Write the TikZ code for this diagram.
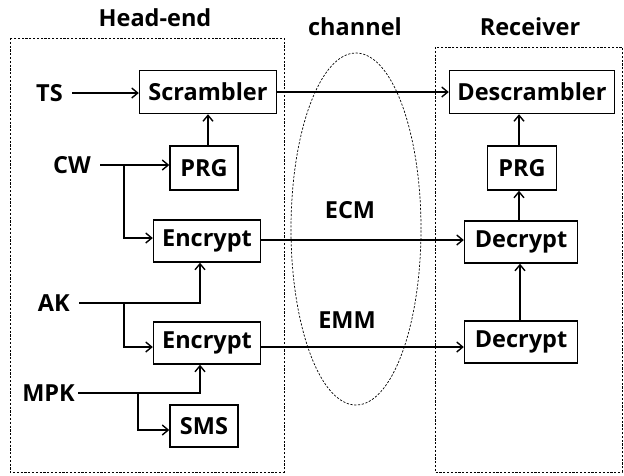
\documentclass[tikz,border=0pt]{standalone}
\usepackage{fontspec}
\setmainfont{Open Sans}
\usetikzlibrary{arrows.meta,shapes.geometric}
\begin{document}
\begin{tikzpicture}[x=1pt,y=-1pt,
  blk/.style={draw,line width=1.4pt,inner sep=0pt,font=\bfseries\fontsize{23.5}{24}\selectfont},
  lbl/.style={font=\bfseries\fontsize{23.5}{24}\selectfont,inner sep=1pt},
  conn/.style={line width=1.4pt,-{Straight Barb[length=6pt,width=10pt,line width=1.4pt]}},
  region/.style={draw,line width=0.7pt,dash pattern=on 2.2pt off 1.6pt}]
\useasboundingbox (0,0) rectangle (624,475);
% regions
\draw[region] (10,38) rectangle (284,472);
\draw[region] (435,47) rectangle (622,472);
\node[region,ellipse,minimum width=130pt,minimum height=352pt,inner sep=0pt] (chan) at (356,229) {};
\node[lbl] (thead) at (155,18) {Head-end};
\node[lbl] (tchan) at (355,27) {channel};
\node[lbl] (trecv) at (530,27) {Receiver};
\node[lbl] (tecm) at (350,210) {ECM};
\node[lbl] (temm) at (347,320) {EMM};
% head-end blocks
\node[blk,minimum width=137pt,minimum height=43pt] (scr) at (208,92) {Scrambler};
\node[blk,minimum width=68pt,minimum height=44pt] (prg) at (204,168) {PRG};
\node[blk,minimum width=107pt,minimum height=42pt] (enc1) at (207,241) {Encrypt};
\node[blk,minimum width=107pt,minimum height=42pt] (enc2) at (207,343) {Encrypt};
\node[blk,minimum width=68pt,minimum height=42pt] (sms) at (204,426) {SMS};
% inputs
\node[lbl,anchor=east] (ts) at (64,93) {TS};
\node[lbl,anchor=east] (cw) at (92,165) {CW};
\node[lbl,anchor=east] (ak) at (71,303) {AK};
\node[lbl,anchor=east] (mpk) at (76,393) {MPK};
% receiver blocks
\node[blk,minimum width=165pt,minimum height=43pt] (dscr) at (532,92) {Descrambler};
\node[blk,minimum width=69pt,minimum height=44pt] (rprg) at (522,168) {PRG};
\node[blk,minimum width=113pt,minimum height=42pt] (dec1) at (521,242) {Decrypt};
\node[blk,minimum width=113pt,minimum height=42pt] (dec2) at (521,342) {Decrypt};
% coordinates
\coordinate (cwb) at (124,165);
\coordinate (akb) at (124,303);
\coordinate (mpkb) at (138,393);
% head-end connectors
\draw[conn] (ts.east) ++(8,0) -- (scr.west |- ts);
\draw[conn] (prg.north -| scr) -- (scr.south);
\draw[conn] (cw.east) ++(8,0) -- (prg.west |- cw);
\draw[conn] (cwb) |- (enc1.west |- 0,238);
\draw[conn] (ak.east) ++(8,0) -| (200,0 |- enc1.south);
\draw[conn] (akb) |- (enc2.west |- 0,347);
\draw[conn] (mpk.east) ++(2,0) -| (200,0 |- enc2.south);
\draw[conn] (mpkb) |- (sms.west |- 0,430);
% channel connectors
\draw[conn] (scr.east) -- (dscr.west);
\draw[conn] (enc1.east |- 0,240) -- (dec1.west |- 0,240);
\draw[conn] (enc2.east |- 0,347) -- (dec2.west |- 0,347);
% receiver connectors
\draw[conn] (dec2.north -| 520,0) -- (dec1.south -| 520,0);
\draw[conn] (dec1.north -| 519,0) -- (rprg.south -| 519,0);
\draw[conn] (rprg.north -| 519,0) -- (dscr.south -| 519,0);
\end{tikzpicture}
\end{document}
